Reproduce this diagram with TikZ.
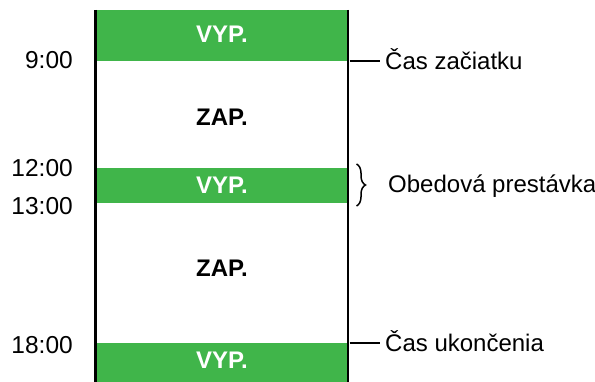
\documentclass[tikz,border=0pt]{standalone}
\usepackage{fontspec}
\setmainfont{Liberation Sans}
\usepackage{xcolor}
\usetikzlibrary{positioning,decorations.pathreplacing}
\definecolor{offgreen}{RGB}{64,181,74}

\begin{document}
\begin{tikzpicture}[
          x=1pt, y=-1pt,
          band/.style={fill=offgreen, draw=none},
          rail/.style={line width=2.6pt, line cap=butt},
          tick/.style={line width=1.4pt, shorten >=5pt},
          state/.style={font=\fontsize{24}{28}\selectfont\bfseries, inner sep=0pt, anchor=base},
          hour/.style={font=\fontsize{24.5}{28}\selectfont, inner sep=0pt, anchor=base east},
          note/.style={font=\fontsize{24}{28}\selectfont, inner sep=0pt, anchor=base west}
      ]
        \useasboundingbox (0,0) rectangle (595,382);
        \fill[band] (96,10) rectangle (348,61);
        \fill[band] (96,168) rectangle (348,203);
        \fill[band] (96,343) rectangle (348,382);
        \coordinate (railLtop) at (95.7,10);
        \coordinate (railLbot) at (95.7,382);
        \coordinate (railRtop) at (348,10);
        \coordinate (railRbot) at (348,382);
        \draw[rail] (railLtop) -- (railLbot);
        \draw[rail] (railRtop) -- (railRbot);
        \node[state, text=white] (off1) at (222,43) {VYP.};
        \node[state] (on1) at (222,126) {ZAP.};
        \node[state, text=white] (off2) at (222,194) {VYP.};
        \node[state] (on2) at (222,277) {ZAP.};
        \node[state, text=white] (off3) at (222,369) {VYP.};
        \node[hour] (h9) at (73,69) {9:00};
        \node[hour] (h12) at (73,176.5) {12:00};
        \node[hour] (h13) at (73,215) {13:00};
        \node[hour] (h18) at (73,353) {18:00};
        \node[note] (start) at (385,70) {Čas začiatku};
        \node[note] (lunch) at (388,193) {Obedová prestávka};
        \node[note] (finish) at (385,352) {Čas ukončenia};
        \coordinate (startR) at (349.5,61);
        \coordinate (finishR) at (349.5,343);
        \coordinate (lunchT) at (356.5,164);
        \coordinate (lunchB) at (356.5,206);
        \draw[tick] (startR) -- (startR -| start.west);
        \draw[tick] (finishR) -- (finishR -| finish.west);
        \draw[line width=1.5pt, decorate,
              decoration={brace, amplitude=9pt}] (lunchT) -- (lunchB);
      \end{tikzpicture}
\end{document}
